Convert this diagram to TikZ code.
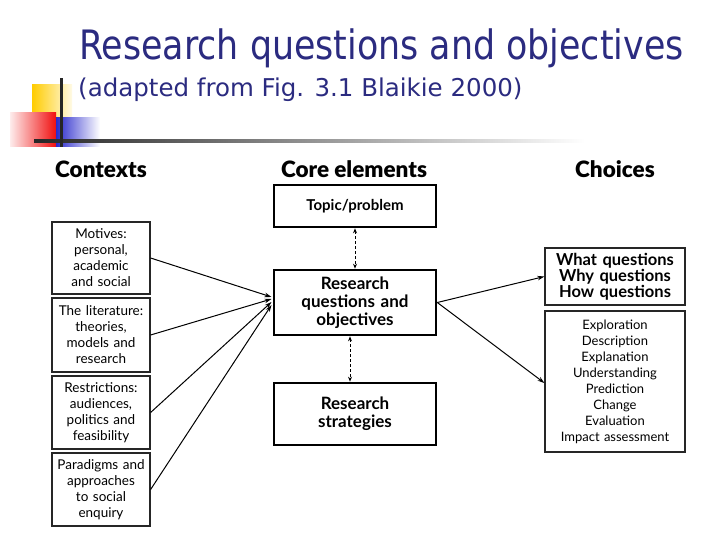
\documentclass[tikz,border=0pt]{standalone}
\usepackage{fontspec}
\setmainfont{Lato}
\newfontfamily\titlefont[FakeStretch=0.86]{DejaVu Sans}
\newfontfamily\subfont{DejaVu Sans}
\newfontfamily\headfont{Lato Black}
\usetikzlibrary{arrows.meta}
\definecolor{navy}{HTML}{2B2B80}
\definecolor{decoyellow}{HTML}{FFCC00}
\definecolor{decored}{HTML}{F01010}
\definecolor{decoblue}{HTML}{2A2ACC}
\tikzset{
  ctxbox/.style={draw=black!85, line width=1.2pt, minimum width=98pt, text width=94pt, align=center, inner sep=0pt, font=\fontsize{13.5}{16}\selectfont},
  corebox/.style={draw=black, line width=2.6pt, minimum width=162pt, text width=150pt, align=center, inner sep=0pt, font=\bfseries\fontsize{17}{18}\selectfont},
  chbox/.style={draw=black!85, line width=1.2pt, minimum width=140pt, text width=136pt, align=center, inner sep=0pt, font=\fontsize{13}{16}\selectfont},
  heading/.style={font=\headfont\fontsize{22.5}{26}\selectfont},
  feed/.style={line width=1pt, -{Stealth[length=7pt,width=4.5pt]}},
  dashlink/.style={line width=1pt, dashed, dash pattern=on 3pt off 2pt, {Stealth[length=5pt,width=4pt]}-{Stealth[length=5pt,width=4pt]}}
}
\begin{document}
\begin{tikzpicture}[x=1pt,y=-1pt]
\useasboundingbox (0,0) rectangle (720,540);
\fill[white] (0,0) rectangle (720,540);
% decoration
\shade[left color=decoyellow, right color=decoyellow!10] (32,85) rectangle (72,118);
\shade[left color=decored!8, right color=decored] (10,113) rectangle (56,147);
\shade[left color=decoblue, right color=white] (56,118) rectangle (100,147);
\shade[left color=black!85, right color=white] (34,140) rectangle (585,142.2);
\fill[black!85] (60,78) rectangle (62.5,147);
% title
\node[anchor=base west, text=navy, inner sep=0pt, font=\titlefont\fontsize{40.5}{48}\selectfont] (title) at (79,60) {Research questions and objectives};
\node[anchor=base west, text=navy, inner sep=0pt, font=\subfont\fontsize{24.5}{30}\selectfont] (subtitle) at (78,97) {(adapted from Fig. 3.1 Blaikie 2000)};
% headings
\node[heading] (hctx) at (101,169) {Contexts};
\node[heading] (hcore) at (354,169) {Core elements};
\node[heading] (hch) at (615,169) {Choices};
% core boxes
\node[corebox, minimum height=42pt, font=\bfseries\fontsize{15}{16}\selectfont] (topic) at (355,206) {Topic/problem};
\node[corebox, minimum height=65pt] (rq) at (355,302.5) {Research\\questions and\\objectives};
\node[corebox, minimum height=62pt] (rs) at (355,414) {Research\\strategies};
% context boxes
\node[ctxbox, minimum height=72pt] (c1) at (101,258) {Motives:\\personal,\\academic\\and social};
\node[ctxbox, minimum height=74pt] (c2) at (101,335) {The literature:\\theories,\\models and\\research};
\node[ctxbox, minimum height=73pt] (c3) at (101,412.5) {Restrictions:\\audiences,\\politics and\\feasibility};
\node[ctxbox, minimum height=73pt] (c4) at (101,489.5) {Paradigms and\\approaches\\to social\\enquiry};
% choice boxes
\node[chbox, minimum height=57pt, font=\bfseries\fontsize{16.5}{16}\selectfont] (cq) at (615,276.5) {What questions\\Why questions\\How questions};
\node[chbox, minimum height=141pt] (cl) at (615,381.5) {Exploration\\Description\\Explanation\\Understanding\\Prediction\\Change\\Evaluation\\Impact assessment};
% connectors
\coordinate (e1) at (271.5,297);
\coordinate (e2) at (271.5,299);
\coordinate (e3) at (271.5,302);
\coordinate (e4) at (271.5,305);
\draw[feed] (c1.east) -- (e1);
\draw[feed] (c2.east) -- (e2);
\draw[feed] (c3.east) -- (e3);
\draw[feed] (c4.east) -- (e4);
\draw[feed] (rq.east) -- (cq.west);
\draw[feed] (rq.east) -- ([yshift=-1.5pt]cl.west);
\draw[dashlink] (topic.south) -- (rq.north);
\draw[dashlink] ([xshift=-5pt]rq.south) -- ([xshift=-5pt]rs.north);
\end{tikzpicture}
\end{document}
